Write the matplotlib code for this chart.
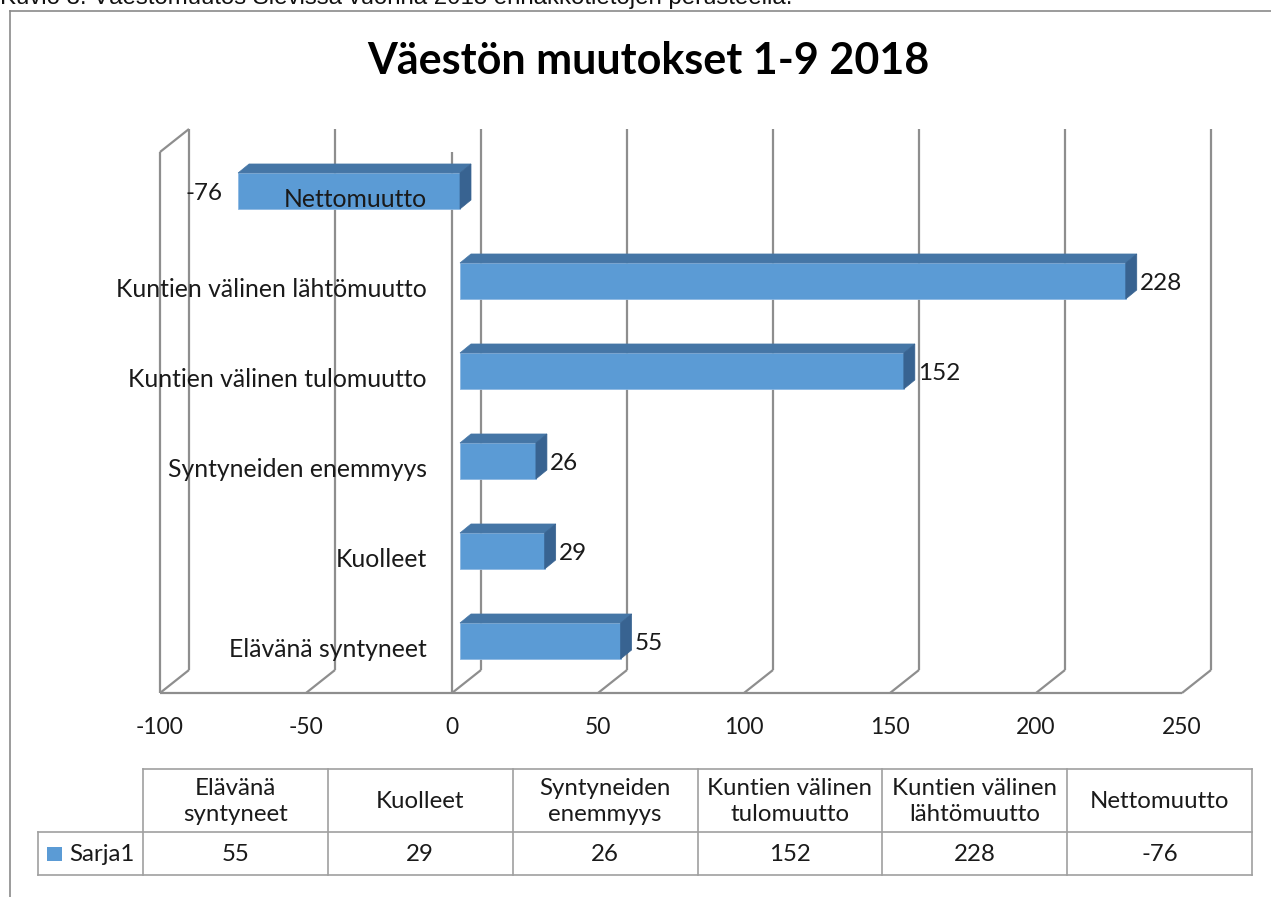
import matplotlib
matplotlib.use('Agg')
import matplotlib.pyplot as plt
from matplotlib.patches import Polygon, Rectangle
from matplotlib.lines import Line2D
from matplotlib.transforms import offset_copy
import numpy as np

# ---------------- data ----------------
categories = ["Elävänä syntyneet", "Kuolleet", "Syntyneiden enemmyys",
              "Kuntien välinen tulomuutto", "Kuntien välinen lähtömuutto",
              "Nettomuutto"]
values = [55, 29, 26, 152, 228, -76]
table_headers = ["Elävänä\nsyntyneet", "Kuolleet", "Syntyneiden\nenemmyys",
                 "Kuntien välinen\ntulomuutto", "Kuntien välinen\nlähtömuutto",
                 "Nettomuutto"]
series_name = "Sarja1"
x_ticks = [-100, -50, 0, 50, 100, 150, 200, 250]
title = "Väestön muutokset 1-9 2018"
caption = "Kuvio 3. Väestömuutos Sievissä vuonna 2018 ennakkotietojen perusteella."

# ---------------- style ----------------
W, H = 1271, 897
FONT = ['Lato', 'DejaVu Sans']
GRID_C = '#8E8E8E'
BAR_FRONT = '#5B9BD5'
BAR_TOP = '#4576A6'
BAR_SIDE = '#386391'
TXT = '#1A1A1A'
FS_CAT = 17.8
FS_TICK = 16.5
FS_VAL = 17.5
FS_TAB = 17.3

fig = plt.figure(figsize=(W / 100, H / 100), dpi=100)

# outer chart frame (page-level overlay axes in pixel coordinates)
pax = fig.add_axes([0, 0, 1, 1])
pax.set_xlim(0, W)
pax.set_ylim(H, 0)
pax.axis('off')
pax.add_line(Line2D([10, W], [11, 11], color='#8A8A8A', lw=1.2))
pax.add_line(Line2D([10, 10], [11, H], color='#8A8A8A', lw=1.2))
pax.text(0, 4, caption, fontsize=17.3, family=['Liberation Sans', 'DejaVu Sans'],
         color='#111111', va='baseline', ha='left')

# ---------------- plot area ----------------
PX0, PX1 = 160, 1182
PY_FLOOR, PY_TOP = 693, 152
ax = fig.add_axes([PX0 / W, (H - PY_FLOOR) / H, (PX1 - PX0) / W, (PY_FLOOR - PY_TOP) / H])
Y_LO, Y_HI = -0.578, 5.433
ax.set_xlim(x_ticks[0], x_ticks[-1])
ax.set_ylim(Y_LO, Y_HI)
ax.axis('off')

ppx = (PX1 - PX0) / (x_ticks[-1] - x_ticks[0])
ppy = (PY_FLOOR - PY_TOP) / (Y_HI - Y_LO)


def dx(p):
    return p / ppx


def dy(p):
    return p / ppy


WDX, WDY = dx(29), dy(23)
LW = 1.6
xmin, xmax = x_ticks[0], x_ticks[-1]


def seg(x, y, **kw):
    ax.add_line(Line2D(x, y, color=GRID_C, lw=LW, clip_on=False,
                       solid_capstyle='butt', **kw))


# back wall grid lines and floor diagonals
for t in x_ticks:
    seg([t + WDX, t + WDX], [Y_LO + WDY, Y_HI + WDY])
    seg([t, t + WDX], [Y_LO, Y_LO + WDY])
# front floor line
seg([xmin, xmax], [Y_LO, Y_LO])
# left wall front edge + top edge
seg([xmin, xmin], [Y_LO, Y_HI])
seg([xmin, xmin + WDX], [Y_HI, Y_HI + WDY])
# front zero axis line
seg([0, 0], [Y_LO, Y_HI])

# ---------------- bars ----------------
FX = dx(8)
BDX, BDY = dx(11), dy(9)
HB = dy(36)
for i, v in enumerate(values):
    ax.barh(i, v, left=FX, height=HB, color=BAR_FRONT, edgecolor='#8DB8E2',
            linewidth=0.6, zorder=3, clip_on=False)
    lft = min(0, v) + FX
    rgt = max(0, v) + FX
    top = i + HB / 2
    bot = i - HB / 2
    ax.add_patch(Polygon([(lft, top), (rgt, top), (rgt + BDX, top + BDY), (lft + BDX, top + BDY)],
                         closed=True, facecolor=BAR_TOP, edgecolor=BAR_TOP, lw=0.5,
                         zorder=3, clip_on=False))
    ax.add_patch(Polygon([(rgt, bot), (rgt, top), (rgt + BDX, top + BDY), (rgt + BDX, bot + BDY)],
                         closed=True, facecolor=BAR_SIDE, edgecolor=BAR_SIDE, lw=0.5,
                         zorder=3, clip_on=False))
    # value labels
    if v >= 0:
        tr = offset_copy(ax.transData, fig=fig, x=FX * ppx + 11 + 3, y=-3, units='dots')
        ax.text(v, i, str(v), transform=tr, ha='left', va='center', fontsize=FS_VAL,
                family=FONT, color=TXT, zorder=5)
    else:
        tr = offset_copy(ax.transData, fig=fig, x=FX * ppx - 16, y=-3, units='dots')
        ax.text(v, i, str(v), transform=tr, ha='right', va='center', fontsize=FS_VAL,
                family=FONT, color=TXT, zorder=5)
    # category labels
    trc = offset_copy(ax.transData, fig=fig, x=-25, y=-9, units='dots')
    ax.text(0, i, categories[i], transform=trc, ha='right', va='center', fontsize=FS_CAT,
            family=FONT, color=TXT, zorder=6)

# x tick labels
trt = offset_copy(ax.transData, fig=fig, x=0, y=-35, units='dots')
for t in x_ticks:
    ax.text(t, Y_LO, str(t), transform=trt, ha='center', va='center', fontsize=FS_TICK,
            family=FONT, color=TXT)

# title
fig.text(648 / W, 1 - 61 / H, title, ha='center', va='center', fontsize=31,
         fontweight='bold', family=FONT, color='#000000')

# ---------------- data table ----------------
TC = '#A0A0A0'
col_x = np.linspace(143, 1252, len(values) + 1)
T_TOP, T_MID, T_BOT = 769, 832, 875
TLEFT = 38
pax.add_line(Line2D([col_x[0], col_x[-1]], [T_TOP, T_TOP], color=TC, lw=1.2))
pax.add_line(Line2D([TLEFT, col_x[-1]], [T_MID, T_MID], color=TC, lw=1.2))
pax.add_line(Line2D([TLEFT, col_x[-1]], [T_BOT, T_BOT], color=TC, lw=1.2))
pax.add_line(Line2D([TLEFT, TLEFT], [T_MID, T_BOT], color=TC, lw=1.2))
for cx in col_x:
    pax.add_line(Line2D([cx, cx], [T_TOP, T_BOT], color=TC, lw=1.2))
for j in range(len(values)):
    cxm = (col_x[j] + col_x[j + 1]) / 2
    pax.text(cxm, (T_TOP + T_MID) / 2 + 1, table_headers[j], ha='center', va='center',
             fontsize=FS_TAB, family=FONT, color=TXT, linespacing=1.25)
    pax.text(cxm, (T_MID + T_BOT) / 2 + 1, str(values[j]), ha='center', va='center',
             fontsize=FS_TAB, family=FONT, color=TXT)
pax.add_patch(Rectangle((47, 847), 15, 14, facecolor=BAR_FRONT, edgecolor='none'))
pax.text(69, (T_MID + T_BOT) / 2 + 1, series_name, ha='left', va='center',
         fontsize=FS_TAB, family=FONT, color=TXT)

fig.savefig('out.png', dpi=100)
